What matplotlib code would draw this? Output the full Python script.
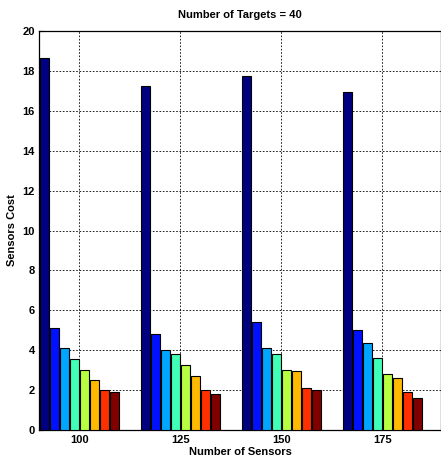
import numpy as np
import matplotlib
matplotlib.use("Agg")
import matplotlib.pyplot as plt

categories = ["100", "125", "150", "175"]
series1 = [18.64, 17.24, 17.72, 16.94]
series2 = [5.11, 4.83, 5.43, 5.03]
series3 = [4.14, 4.01, 4.14, 4.36]
series4 = [3.56, 3.84, 3.84, 3.63]
series5 = [3.04, 3.26, 3.04, 2.81]
series6 = [2.54, 2.72, 2.96, 2.64]
series7 = [2.03, 2.03, 2.14, 1.93]
series8 = [1.93, 1.84, 2.03, 1.64]
all_series = [series1, series2, series3, series4, series5, series6, series7, series8]
yticks = list(range(0, 21, 2))

plt.rcParams['font.family'] = ['Liberation Sans', 'DejaVu Sans']

fig = plt.figure(figsize=(4.41, 4.65), dpi=100)
ax = fig.add_axes([0.0884, 0.0742, 0.9116, 0.8602])

x = np.arange(1, len(categories) + 1)
n = len(all_series)
slot = 0.099
width = 0.086
colors = plt.cm.jet(np.linspace(0, 1, n))
for i, s in enumerate(all_series):
    ax.bar(x + (i - (n - 1) / 2) * slot, s, width=width, color=colors[i],
           edgecolor='black', linewidth=0.8, zorder=3)

ax.set_xlim(0.6, 4.58)
ax.set_ylim(0, 20)
ax.set_xticks(x)
ax.set_xticklabels(categories, fontsize=8, fontweight='bold')
ax.set_yticks(yticks)
ax.set_yticklabels([str(v) for v in yticks], fontsize=8, fontweight='bold')
ax.tick_params(direction='in', length=3, width=0.8, pad=3)
ax.grid(True, linestyle=(0, (2, 2)), color='black', linewidth=0.6, zorder=0)
ax.set_axisbelow(True)
for sp in ax.spines.values():
    sp.set_linewidth(0.9)

ax.set_title("Number of Targets = 40", fontsize=8, fontweight='bold', pad=9)
ax.set_xlabel("Number of Sensors", fontsize=8, fontweight='bold', labelpad=2)
ax.set_ylabel("Sensors Cost", fontsize=8, fontweight='bold', labelpad=4)

fig.savefig("out.png", dpi=100)
